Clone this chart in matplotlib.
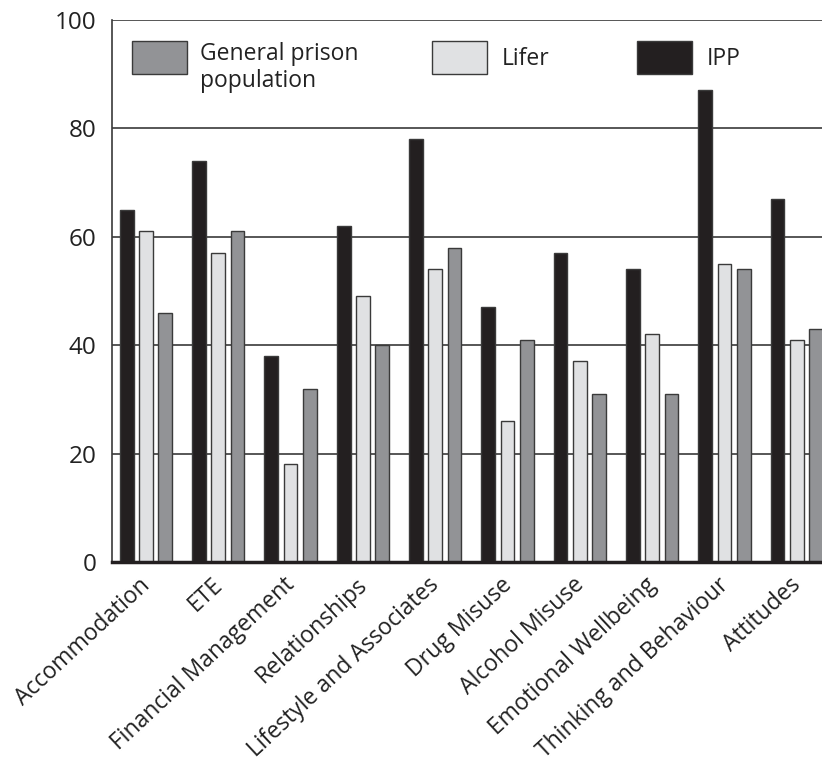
import numpy as np
import matplotlib
matplotlib.use('Agg')
import matplotlib.pyplot as plt
from matplotlib.patches import Rectangle

plt.rcParams['font.family'] = ['Open Sans', 'DejaVu Sans']

# dane
categories = ['Accommodation', 'ETE', 'Financial Management', 'Relationships',
              'Lifestyle and Associates', 'Drug Misuse', 'Alcohol Misuse',
              'Emotional Wellbeing', 'Thinking and Behaviour', 'Attitudes']
ipp = [65, 74, 38, 62, 78, 47, 57, 54, 87, 67]
lifer = [61, 57, 18, 49, 54, 26, 37, 42, 55, 41]
general = [46, 61, 32, 40, 58, 41, 31, 31, 54, 43]
series_names = ['General prison\npopulation', 'Lifer', 'IPP']
y_ticks = [0, 20, 40, 60, 80, 100]

col_ipp = '#231f20'
col_lifer = '#e0e1e3'
col_gen = '#929396'
edge = '#3a3a3a'
txt = '#222222'

fig = plt.figure(figsize=(8.22, 7.8), dpi=100)
ax = fig.add_axes([112 / 822, 1 - 562 / 780, 721 / 822, 542 / 780])

x = np.arange(len(categories))
step = 0.267
w = 0.19
ax.bar(x - step, ipp, w, color=col_ipp, edgecolor=edge, linewidth=1, zorder=3)
ax.bar(x, lifer, w, color=col_lifer, edgecolor=edge, linewidth=1, zorder=3)
ax.bar(x + step, general, w, color=col_gen, edgecolor=edge, linewidth=1, zorder=3)

ax.set_xlim(-0.47, 9.5)
ax.set_ylim(0, 100)
ax.set_yticks(y_ticks)
ax.set_yticklabels([str(v) for v in y_ticks], fontsize=17.5, color=txt)
ax.tick_params(axis='y', length=0, pad=11)
ax.tick_params(axis='x', length=0, pad=8)
ax.set_xticks(x - 0.1)
ax.set_xticklabels(categories, rotation=43, ha='right', va='top',
                   rotation_mode='anchor', fontsize=16.5, color=txt)

for v in y_ticks[1:]:
    ax.axhline(v, color='#3a3a3a', linewidth=1.2, zorder=1)

ax.spines['right'].set_visible(False)
ax.spines['top'].set_visible(False)
ax.spines['left'].set_linewidth(1.2)
ax.spines['left'].set_color('#3a3a3a')
ax.spines['bottom'].set_linewidth(2.5)
ax.spines['bottom'].set_color('#231f20')
ax.spines['bottom'].set_zorder(4)

# legenda rysowana recznie
leg_cols = [col_gen, col_lifer, col_ipp]
leg_x = [132, 432, 637]
for name, c, px in zip(series_names, leg_cols, leg_x):
    fx = (px - 112) / 721
    ax.add_patch(Rectangle((fx, 1 - 54 / 542), 55 / 721, 33 / 542,
                           transform=ax.transAxes, facecolor=c,
                           edgecolor=edge, linewidth=1, zorder=5))
    if '\n' in name:
        ax.text(fx + 68 / 721, 1 - 22 / 542, name, transform=ax.transAxes,
                fontsize=16.5, color=txt, va='top', linespacing=1.15, zorder=5)
    else:
        ax.text(fx + 70 / 721, 1 - 39 / 542, name, transform=ax.transAxes,
                fontsize=16.5, color=txt, va='center', zorder=5)

fig.savefig('out.png', dpi=100)
